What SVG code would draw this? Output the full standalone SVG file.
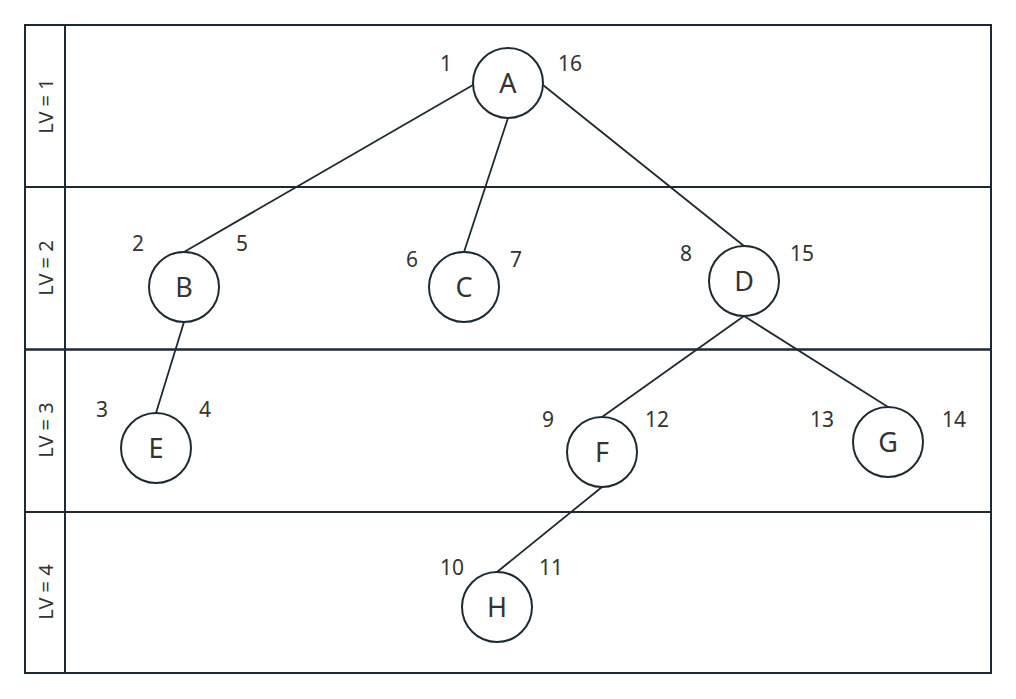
<svg xmlns="http://www.w3.org/2000/svg" width="1016" height="699" viewBox="0 0 1016 699">
<style>
.grid{fill:none;stroke:#1e2a33;stroke-width:2}
.node circle{fill:#fff;stroke:#1e2a33;stroke-width:2}
.node text{font-family:"Noto Sans","Open Sans",sans-serif;font-size:27px;fill:#333;text-anchor:middle;dominant-baseline:central}
.num{font-family:"Noto Sans","Open Sans",sans-serif;font-size:21px;fill:#333;text-anchor:middle;dominant-baseline:central}
.lv{font-family:"Noto Sans","Open Sans",sans-serif;font-size:20px;fill:#333;text-anchor:middle;dominant-baseline:central}
.edges line{stroke:#1e2a33;stroke-width:1.8}
</style>
<rect width="1016" height="699" fill="#fff"/>
<g id="grid">
<rect class="grid" x="25" y="25" width="966" height="648"/>
<line class="grid" x1="65" y1="25" x2="65" y2="673"/>
<line class="grid" x1="25" y1="187" x2="991" y2="187"/>
<line class="grid" x1="25" y1="349.5" x2="991" y2="349.5" style="stroke-width:2.6"/>
<line class="grid" x1="25" y1="512" x2="991" y2="512"/>
<text class="lv" transform="translate(45,106) rotate(-90)">LV = 1</text>
<text class="lv" transform="translate(45,268) rotate(-90)">LV = 2</text>
<text class="lv" transform="translate(45,430) rotate(-90)">LV = 3</text>
<text class="lv" transform="translate(45,592) rotate(-90)">LV = 4</text>
</g>
<g id="connectors" class="edges">
<line x1="473" y1="85" x2="184" y2="252"/>
<line x1="508" y1="118" x2="464" y2="252"/>
<line x1="543" y1="85" x2="744" y2="246"/>
<line x1="184" y1="322" x2="156" y2="413"/>
<line x1="744" y1="316" x2="602" y2="417"/>
<line x1="744" y1="316" x2="888" y2="407"/>
<line x1="602" y1="487" x2="497" y2="572"/>
</g>
<g id="A" class="node"><circle cx="508" cy="83" r="35"/><text x="508" y="82">A</text></g>
<g id="B" class="node"><circle cx="184" cy="287" r="35"/><text x="184" y="286">B</text></g>
<g id="C" class="node"><circle cx="464" cy="287" r="35"/><text x="464" y="286">C</text></g>
<g id="D" class="node"><circle cx="744" cy="281" r="35"/><text x="744" y="280">D</text></g>
<g id="E" class="node"><circle cx="156" cy="448" r="35"/><text x="156" y="447">E</text></g>
<g id="F" class="node"><circle cx="602" cy="452" r="35"/><text x="602" y="451">F</text></g>
<g id="G" class="node"><circle cx="888" cy="442" r="35"/><text x="888" y="441">G</text></g>
<g id="H" class="node"><circle cx="497" cy="607" r="35"/><text x="497" y="606">H</text></g>
<g id="numbers">
<text class="num" x="446" y="63">1</text>
<text class="num" x="570" y="63">16</text>
<text class="num" x="138" y="243">2</text>
<text class="num" x="242" y="243">5</text>
<text class="num" x="412" y="259">6</text>
<text class="num" x="516" y="259">7</text>
<text class="num" x="686" y="253">8</text>
<text class="num" x="802" y="253">15</text>
<text class="num" x="102" y="409">3</text>
<text class="num" x="205" y="409">4</text>
<text class="num" x="548" y="419">9</text>
<text class="num" x="657" y="419">12</text>
<text class="num" x="822" y="419">13</text>
<text class="num" x="954" y="419">14</text>
<text class="num" x="452" y="567">10</text>
<text class="num" x="551" y="567">11</text>
</g>
</svg>
